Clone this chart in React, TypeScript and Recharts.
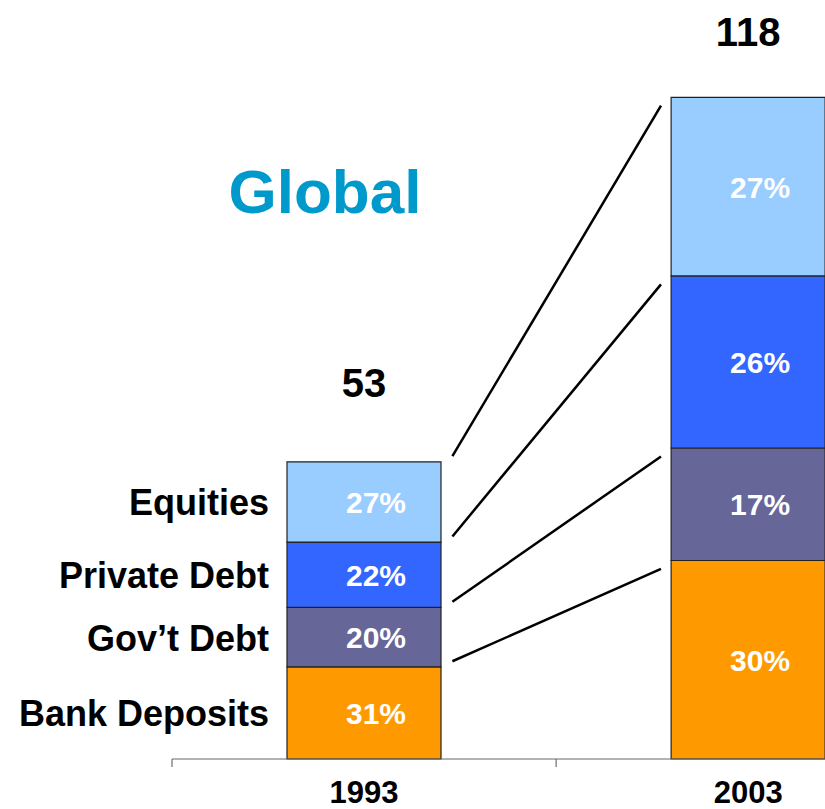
import { BarChart, Bar, XAxis, YAxis, LabelList, ReferenceLine } from "recharts";

const years = ["1993", "2003"];
const yearPos = [0.5, 1.5];
const totals = [53, 118];

// shares of each total, bottom of the stack to top
const bankPct = [31, 30];
const govPct = [20, 17];
const privatePct = [22, 26];
const equityPct = [27, 27];

const segments = [
  { key: "bank", name: "Bank Deposits", pct: bankPct, color: "#FF9900" },
  { key: "gov", name: "Gov’t Debt", pct: govPct, color: "#666699" },
  { key: "private", name: "Private Debt", pct: privatePct, color: "#3366FF" },
  { key: "equity", name: "Equities", pct: equityPct, color: "#99CCFF" },
];

const data = years.map((year, i) => {
  const row: Record<string, number | string> = { year, pos: yearPos[i] };
  segments.forEach((s) => {
    row[s.key] = (totals[i] * s.pct[i]) / 100;
  });
  return row;
});

// connector lines: top of each segment in 1993 to the same boundary in 2003
const cumulative = (i: number, upTo: number) =>
  segments.slice(0, upTo + 1).reduce((sum, s) => sum + (totals[i] * s.pct[i]) / 100, 0);
const connectors = segments.map((_, k) => [
  { x: 0.73, y: cumulative(0, k) + 1 },
  { x: 1.273, y: cumulative(1, k) - 1.5 },
]);

const FONT = "'Liberation Sans', Arial, Helvetica, sans-serif";
const totalGap = [65, 51];

export default function App() {
  return (
    <div
      style={{
        position: "absolute",
        left: 0,
        top: 0,
        width: 825,
        height: 809,
        overflow: "hidden",
        background: "#fff",
        fontFamily: FONT,
      }}
    >
      <BarChart
        width={825}
        height={809}
        data={data}
        margin={{ top: 30, right: 0, bottom: 0, left: 172 }}
      >
        <XAxis
          xAxisId="grid"
          dataKey="pos"
          type="number"
          domain={[0, 1.7]}
          ticks={[0, 1]}
          tick={() => <g />}
          tickLine={{ stroke: "#555", strokeWidth: 1 }}
          tickSize={8}
          height={1}
          stroke="#666"
          allowDataOverflow
        />
        <XAxis
          xAxisId="years"
          dataKey="pos"
          type="number"
          domain={[0, 1.7]}
          ticks={yearPos}
          axisLine={false}
          tickLine={false}
          tickSize={0}
          height={49}
          allowDataOverflow
          tick={({ x, y, payload }: any) => (
            <text
              x={x}
              y={y}
              dy={41}
              textAnchor="middle"
              fontSize={31}
              fontWeight="bold"
              fontFamily={FONT}
              fill="#000"
            >
              {years[yearPos.indexOf(payload.value)]}
            </text>
          )}
        />
        <YAxis hide type="number" domain={[0, 130]} />
        {segments.map((s, k) => (
          <Bar
            key={s.key}
            xAxisId="grid"
            dataKey={s.key}
            stackId="a"
            fill={s.color}
            stroke="#222"
            strokeWidth={1.2}
            barSize={154}
            isAnimationActive={false}
          >
            <LabelList
              dataKey={s.key}
              content={(p: any) => (
                <text
                  x={Number(p.x) + Number(p.width) / 2 + 12}
                  y={Number(p.y) + Number(p.height) / 2 + 11}
                  textAnchor="middle"
                  fontSize={30}
                  fontWeight="bold"
                  fontFamily={FONT}
                  fill="#fff"
                >
                  {s.pct[p.index]}%
                </text>
              )}
            />
            <LabelList
              dataKey={s.key}
              content={(p: any) =>
                p.index === 0 ? (
                  <text
                    x={Number(p.x) - 18}
                    y={Number(p.y) + Number(p.height) / 2 + 13.5}
                    textAnchor="end"
                    fontSize={36}
                    fontWeight="bold"
                    fontFamily={FONT}
                    fill="#000"
                  >
                    {s.name}
                  </text>
                ) : null
              }
            />
            {k === segments.length - 1 && (
              <LabelList
                dataKey={s.key}
                content={(p: any) => (
                  <text
                    x={Number(p.x) + Number(p.width) / 2}
                    y={Number(p.y) - totalGap[p.index]}
                    textAnchor="middle"
                    fontSize={40}
                    fontWeight="bold"
                    fontFamily={FONT}
                    fill="#000"
                  >
                    {totals[p.index]}
                  </text>
                )}
              />
            )}
          </Bar>
        ))}
        {connectors.map((seg, k) => (
          <ReferenceLine
            key={k}
            xAxisId="grid"
            segment={seg}
            stroke="#000"
            strokeWidth={2.5}
            ifOverflow="visible"
          />
        ))}
        <text
          x={325}
          y={213}
          textAnchor="middle"
          fontSize={62}
          fontWeight="bold"
          fontFamily={FONT}
          fill="#0099CC"
        >
          Global
        </text>
      </BarChart>
    </div>
  );
}
